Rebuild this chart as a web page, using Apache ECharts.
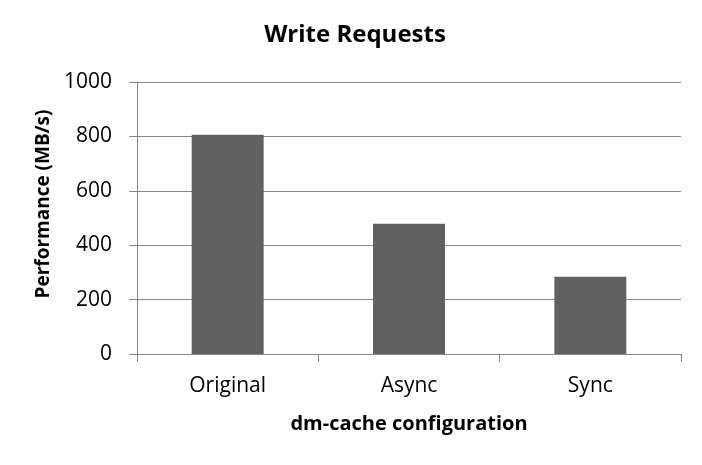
<!DOCTYPE html>
<html><head><meta charset="utf-8">
<script src="https://cdn.jsdelivr.net/npm/echarts@6/dist/echarts.min.js"></script>
<style>html,body{margin:0;padding:0;background:#fff}#c{width:702px;height:465px}</style>
</head><body><div id="c"></div>
<script>
const categories = ["Original", "Async", "Sync"];
const values = [806, 479, 284];
const yTicks = [0, 200, 400, 600, 800, 1000];
const titleText = 'Write Requests';
const xName = 'dm-cache configuration';
const yName = 'Performance (MB/s)';

const chart = echarts.init(document.getElementById('c'), null, {renderer: 'canvas'});
const font = '"Open Sans", "Liberation Sans", sans-serif';
chart.setOption({
  animation: false,
  backgroundColor: '#fff',
  title: {
    text: titleText, left: 350, top: 18, textAlign: 'center',
    textStyle: {fontFamily: font, fontSize: 24, fontWeight: 'bold', color: '#000'}
  },
  grid: {left: 137, right: 21, top: 82, bottom: 111, containLabel: false},
  xAxis: {
    type: 'category', data: categories,
    name: xName, nameLocation: 'middle', nameGap: 60,
    nameTextStyle: {fontFamily: font, fontSize: 20, fontWeight: 'bold', color: '#000'},
    axisLine: {lineStyle: {color: '#868686', width: 1}},
    axisTick: {show: true, length: 8, lineStyle: {color: '#868686'}},
    axisLabel: {fontFamily: font, fontSize: 21, color: '#000', margin: 22}
  },
  yAxis: {
    type: 'value', min: yTicks[0], max: yTicks[yTicks.length - 1], interval: 200,
    axisLine: {show: true, lineStyle: {color: '#868686', width: 1}},
    axisTick: {show: true, length: 8, lineStyle: {color: '#868686'}},
    axisLabel: {fontFamily: font, fontSize: 21, color: '#000', margin: 25,
      formatter: v => String(v)},
    splitLine: {lineStyle: {color: '#868686', width: 1}}
  },
  graphic: [{
    type: 'text', x: 44, y: 204, rotation: Math.PI / 2,
    style: {text: yName, fontFamily: font, fontSize: 19, fontWeight: 'bold', fill: '#000',
      align: 'center', verticalAlign: 'middle'}
  }],
  series: [{
    type: 'bar', data: values, barWidth: '39.7%',
    itemStyle: {color: '#616161'}
  }]
});
</script></body></html>
